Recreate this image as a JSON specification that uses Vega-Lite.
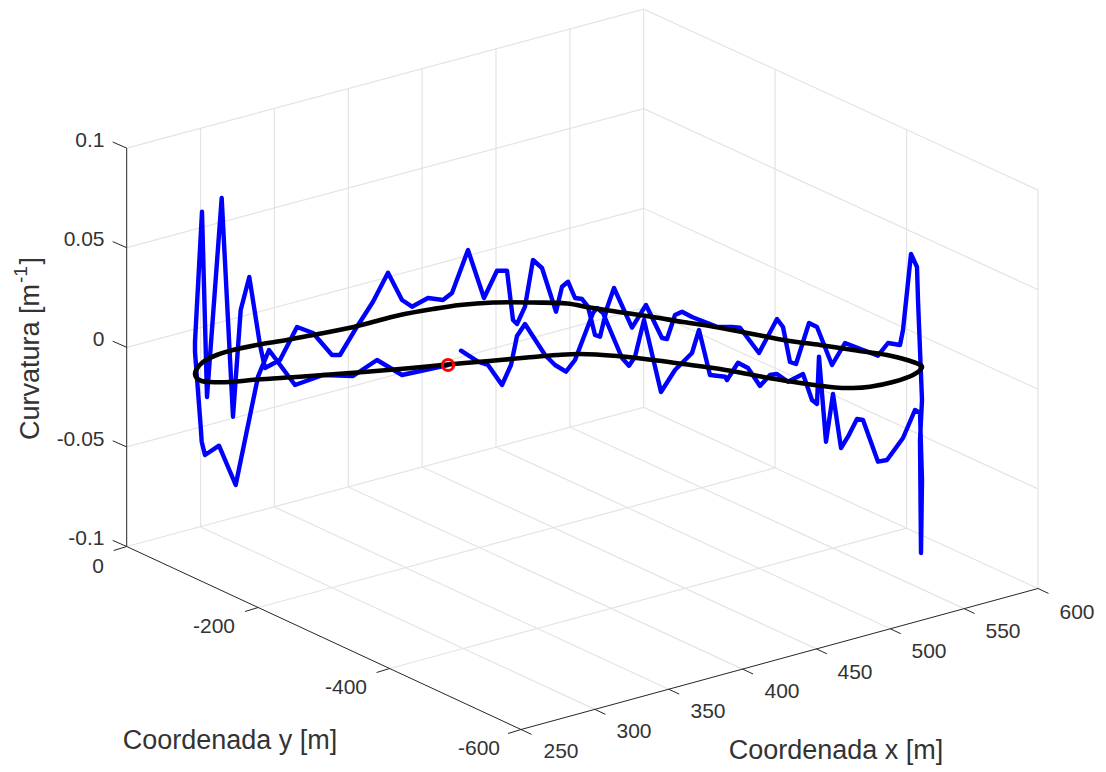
{"$schema":"https://vega.github.io/schema/vega-lite/v6.json","width":1106,"height":772,"padding":0,"autosize":{"type":"fit","contains":"padding"},"background":"white","config":{"view":{"stroke":null}},
"datasets":{
"grid":[
{"s":"a1","i":0,"h":200.6,"v":527},{"s":"a1","i":1,"h":200.6,"v":128.6},
{"s":"a2","i":0,"h":274.4,"v":507},{"s":"a2","i":1,"h":274.4,"v":108.6},
{"s":"a3","i":0,"h":348.3,"v":487},{"s":"a3","i":1,"h":348.3,"v":88.6},
{"s":"a4","i":0,"h":422.1,"v":467},{"s":"a4","i":1,"h":422.1,"v":68.6},
{"s":"a5","i":0,"h":496,"v":447},{"s":"a5","i":1,"h":496,"v":48.6},
{"s":"a6","i":0,"h":569.9,"v":427},{"s":"a6","i":1,"h":569.9,"v":28.6},
{"s":"a7","i":0,"h":643.7,"v":407.5},{"s":"a7","i":1,"h":643.7,"v":9.1},
{"s":"b0","i":0,"h":126.7,"v":546.5},{"s":"b0","i":1,"h":643.7,"v":407.5},{"s":"b0","i":2,"h":1038,"v":588.5},
{"s":"b1","i":0,"h":126.7,"v":446.9},{"s":"b1","i":1,"h":643.7,"v":307.9},{"s":"b1","i":2,"h":1038,"v":488.9},
{"s":"b2","i":0,"h":126.7,"v":347.3},{"s":"b2","i":1,"h":643.7,"v":208.3},{"s":"b2","i":2,"h":1038,"v":389.3},
{"s":"b3","i":0,"h":126.7,"v":247.7},{"s":"b3","i":1,"h":643.7,"v":108.7},{"s":"b3","i":2,"h":1038,"v":289.7},
{"s":"b4","i":0,"h":126.7,"v":148.1},{"s":"b4","i":1,"h":643.7,"v":9.1},{"s":"b4","i":2,"h":1038,"v":190.1},
{"s":"c1","i":0,"h":775.1,"v":467.8},{"s":"c1","i":1,"h":775.1,"v":69.4},
{"s":"c2","i":0,"h":906.6,"v":528.2},{"s":"c2","i":1,"h":906.6,"v":129.8},
{"s":"c3","i":0,"h":1038,"v":588.5},{"s":"c3","i":1,"h":1038,"v":190.1},
{"s":"d1","i":0,"h":200.6,"v":527},{"s":"d1","i":1,"h":594.9,"v":709.4},
{"s":"d2","i":0,"h":274.4,"v":507},{"s":"d2","i":1,"h":668.7,"v":689.2},
{"s":"d3","i":0,"h":348.3,"v":487},{"s":"d3","i":1,"h":742.6,"v":669.1},
{"s":"d4","i":0,"h":422.1,"v":467},{"s":"d4","i":1,"h":816.4,"v":648.9},
{"s":"d5","i":0,"h":496,"v":447},{"s":"d5","i":1,"h":890.3,"v":628.8},
{"s":"d6","i":0,"h":569.9,"v":427},{"s":"d6","i":1,"h":964.1,"v":608.6},
{"s":"e1","i":0,"h":258.1,"v":607.5},{"s":"e1","i":1,"h":775.1,"v":467.8},
{"s":"e2","i":0,"h":389.6,"v":668.5},{"s":"e2","i":1,"h":906.6,"v":528.2}
],
"axes":[
{"s":"z","i":0,"h":126.7,"v":148.1},{"s":"z","i":1,"h":126.7,"v":546.5},
{"s":"y","i":0,"h":126.7,"v":546.5},{"s":"y","i":1,"h":521,"v":729.5},
{"s":"x","i":0,"h":521,"v":729.5},{"s":"x","i":1,"h":1038,"v":588.5},
{"s":"tz0","i":0,"h":126.7,"v":148.1},{"s":"tz0","i":1,"h":112.7,"v":142},
{"s":"tz1","i":0,"h":126.7,"v":247.7},{"s":"tz1","i":1,"h":112.7,"v":241.6},
{"s":"tz2","i":0,"h":126.7,"v":347.3},{"s":"tz2","i":1,"h":112.7,"v":341.2},
{"s":"tz3","i":0,"h":126.7,"v":446.9},{"s":"tz3","i":1,"h":112.7,"v":440.8},
{"s":"tz4","i":0,"h":126.7,"v":546.5},{"s":"tz4","i":1,"h":112.7,"v":540.4},
{"s":"ty0","i":0,"h":126.7,"v":546.5},{"s":"ty0","i":1,"h":113.7,"v":550.5},
{"s":"ty1","i":0,"h":258.1,"v":607.5},{"s":"ty1","i":1,"h":245.1,"v":611.5},
{"s":"ty2","i":0,"h":389.6,"v":668.5},{"s":"ty2","i":1,"h":376.6,"v":672.5},
{"s":"ty3","i":0,"h":521,"v":729.5},{"s":"ty3","i":1,"h":508,"v":733.5},
{"s":"tx0","i":0,"h":521,"v":729.5},{"s":"tx0","i":1,"h":531.5,"v":734.4},
{"s":"tx1","i":0,"h":594.9,"v":709.4},{"s":"tx1","i":1,"h":605.4,"v":714.3},
{"s":"tx2","i":0,"h":668.7,"v":689.2},{"s":"tx2","i":1,"h":679.2,"v":694.1},
{"s":"tx3","i":0,"h":742.6,"v":669.1},{"s":"tx3","i":1,"h":753.1,"v":674},
{"s":"tx4","i":0,"h":816.4,"v":648.9},{"s":"tx4","i":1,"h":826.9,"v":653.8},
{"s":"tx5","i":0,"h":890.3,"v":628.8},{"s":"tx5","i":1,"h":900.8,"v":633.7},
{"s":"tx6","i":0,"h":964.1,"v":608.6},{"s":"tx6","i":1,"h":974.6,"v":613.5},
{"s":"tx7","i":0,"h":1038,"v":588.5},{"s":"tx7","i":1,"h":1048.5,"v":593.4}
],
"blue":[
{"i":0,"h":461,"v":350.7},{"i":1,"h":478,"v":361.7},{"i":2,"h":488,"v":365},{"i":3,"h":502,"v":385},{"i":4,"h":511,"v":365},{"i":5,"h":517,"v":336},{"i":6,"h":525,"v":324},{"i":7,"h":545,"v":355},{"i":8,"h":555,"v":365},{"i":9,"h":566,"v":371.7},{"i":10,"h":575,"v":360},{"i":11,"h":593,"v":313},{"i":12,"h":597,"v":308},{"i":13,"h":603,"v":313},{"i":14,"h":622,"v":358},{"i":15,"h":629,"v":365.7},{"i":16,"h":635,"v":356.7},{"i":17,"h":644,"v":320},{"i":18,"h":661,"v":392},{"i":19,"h":675,"v":370},{"i":20,"h":685,"v":360},{"i":21,"h":692,"v":353},{"i":22,"h":699,"v":330},{"i":23,"h":710,"v":375},{"i":24,"h":725,"v":376.7},{"i":25,"h":727,"v":380},{"i":26,"h":738,"v":362.7},{"i":27,"h":748,"v":368},{"i":28,"h":760,"v":386},{"i":29,"h":770,"v":375},{"i":30,"h":777,"v":374},{"i":31,"h":788,"v":381.7},{"i":32,"h":803,"v":374},{"i":33,"h":812,"v":400},{"i":34,"h":817,"v":404},{"i":35,"h":819,"v":356.7},{"i":36,"h":826,"v":441.7},{"i":37,"h":833,"v":394},{"i":38,"h":841,"v":448},{"i":39,"h":848,"v":436.7},{"i":40,"h":857,"v":419},{"i":41,"h":863,"v":420},{"i":42,"h":878,"v":461.7},{"i":43,"h":887,"v":460},{"i":44,"h":903,"v":438},{"i":45,"h":915,"v":410},{"i":46,"h":920,"v":413},{"i":47,"h":922,"v":480},{"i":48,"h":921,"v":553},{"i":49,"h":920,"v":440},{"i":50,"h":922,"v":400},{"i":51,"h":918,"v":300},{"i":52,"h":917,"v":267},{"i":53,"h":911,"v":254},{"i":54,"h":903,"v":330},{"i":55,"h":900,"v":345},{"i":56,"h":888,"v":343},{"i":57,"h":878,"v":355.7},{"i":58,"h":845,"v":343},{"i":59,"h":832,"v":365},{"i":60,"h":817,"v":327},{"i":61,"h":809,"v":323},{"i":62,"h":796,"v":364},{"i":63,"h":790,"v":362},{"i":64,"h":783,"v":327},{"i":65,"h":777,"v":319},{"i":66,"h":759,"v":353},{"i":67,"h":740,"v":327.7},{"i":68,"h":732,"v":327},{"i":69,"h":717,"v":326.7},{"i":70,"h":692,"v":317},{"i":71,"h":682,"v":311.7},{"i":72,"h":675,"v":315},{"i":73,"h":667,"v":339},{"i":74,"h":662,"v":338},{"i":75,"h":646,"v":305},{"i":76,"h":632,"v":327.7},{"i":77,"h":614,"v":288},{"i":78,"h":607,"v":308},{"i":79,"h":600,"v":336.7},{"i":80,"h":595,"v":335},{"i":81,"h":588,"v":306.7},{"i":82,"h":582,"v":299},{"i":83,"h":575,"v":298},{"i":84,"h":568,"v":281.7},{"i":85,"h":562,"v":286.7},{"i":86,"h":556,"v":311.7},{"i":87,"h":542,"v":268},{"i":88,"h":533,"v":260},{"i":89,"h":525,"v":306.7},{"i":90,"h":517,"v":324},{"i":91,"h":513,"v":320},{"i":92,"h":507,"v":270.7},{"i":93,"h":497,"v":270.7},{"i":94,"h":484,"v":298},{"i":95,"h":468,"v":250},{"i":96,"h":452,"v":293},{"i":97,"h":443,"v":300},{"i":98,"h":428,"v":298},{"i":99,"h":412,"v":306.7},{"i":100,"h":402,"v":300},{"i":101,"h":388,"v":272.7},{"i":102,"h":373,"v":301.7},{"i":103,"h":357,"v":326.7},{"i":104,"h":340,"v":355},{"i":105,"h":332,"v":355},{"i":106,"h":313,"v":333},{"i":107,"h":297,"v":327},{"i":108,"h":280,"v":360},{"i":109,"h":265,"v":368},{"i":110,"h":260,"v":345},{"i":111,"h":249.3,"v":277},{"i":112,"h":240.7,"v":310},{"i":113,"h":233,"v":416.7},{"i":114,"h":221.7,"v":198},{"i":115,"h":207,"v":397},{"i":116,"h":202,"v":211.7},{"i":117,"h":195,"v":341.7},{"i":118,"h":195,"v":352},{"i":119,"h":200.7,"v":426.7},{"i":120,"h":201.7,"v":441.7},{"i":121,"h":205,"v":455},{"i":122,"h":219,"v":445.7},{"i":123,"h":235.7,"v":485},{"i":124,"h":258,"v":376.7},{"i":125,"h":269,"v":350},{"i":126,"h":295,"v":385},{"i":127,"h":323,"v":375},{"i":128,"h":353,"v":376},{"i":129,"h":377,"v":360},{"i":130,"h":402,"v":375},{"i":131,"h":448,"v":365}
],
"black":[
{"i":0,"h":448,"v":364.5},{"i":1,"h":477,"v":362},{"i":2,"h":500,"v":360},{"i":3,"h":527,"v":357.5},{"i":4,"h":557,"v":355},{"i":5,"h":580,"v":354},{"i":6,"h":617,"v":356},{"i":7,"h":653,"v":360},{"i":8,"h":683,"v":364},{"i":9,"h":720,"v":369},{"i":10,"h":753,"v":375},{"i":11,"h":787,"v":381},{"i":12,"h":820,"v":385.7},{"i":13,"h":835,"v":387.5},{"i":14,"h":853,"v":388},{"i":15,"h":870,"v":386.7},{"i":16,"h":893,"v":382},{"i":17,"h":913,"v":375},{"i":18,"h":921.7,"v":368},{"i":19,"h":921.7,"v":366},{"i":20,"h":907,"v":360},{"i":21,"h":887,"v":355},{"i":22,"h":853,"v":350},{"i":23,"h":820,"v":345},{"i":24,"h":790,"v":341},{"i":25,"h":763,"v":336},{"i":26,"h":737,"v":331},{"i":27,"h":710,"v":326},{"i":28,"h":683,"v":322},{"i":29,"h":653,"v":317},{"i":30,"h":617,"v":311.7},{"i":31,"h":590,"v":307.5},{"i":32,"h":567,"v":303.5},{"i":33,"h":533,"v":302.5},{"i":34,"h":493,"v":302.5},{"i":35,"h":460,"v":305},{"i":36,"h":433,"v":309},{"i":37,"h":400,"v":315},{"i":38,"h":376.7,"v":321},{"i":39,"h":350,"v":327.7},{"i":40,"h":313,"v":335},{"i":41,"h":286.7,"v":340},{"i":42,"h":256.7,"v":345},{"i":43,"h":233,"v":350},{"i":44,"h":216.7,"v":355},{"i":45,"h":203,"v":362},{"i":46,"h":196.7,"v":369},{"i":47,"h":195,"v":374},{"i":48,"h":196.7,"v":378},{"i":49,"h":201.7,"v":381},{"i":50,"h":210,"v":382},{"i":51,"h":230,"v":382},{"i":52,"h":256.7,"v":379.5},{"i":53,"h":300,"v":376.7},{"i":54,"h":350,"v":373},{"i":55,"h":400,"v":369},{"i":56,"h":448,"v":364.5}
],
"marker":[{"h":448,"v":365}],
"ticks":[
{"t":"0.1","h":104.5,"v":140.5},{"t":"0.05","h":104.5,"v":240},{"t":"0","h":104.5,"v":339.5},{"t":"-0.05","h":104.5,"v":439.5},{"t":"-0.1","h":104.5,"v":538.5}
],
"cticks":[
{"t":"0","h":98,"v":567},{"t":"-200","h":214,"v":627},{"t":"-400","h":346,"v":688},{"t":"-600","h":479,"v":749},
{"t":"250","h":561,"v":752},{"t":"300","h":634,"v":732},{"t":"350","h":708,"v":712},{"t":"400","h":782,"v":692},{"t":"450","h":855,"v":673},{"t":"500","h":929,"v":652},{"t":"550","h":1003,"v":632},{"t":"600","h":1077,"v":613}
],
"titles":[{"t":"Coordenada y [m]","h":230,"v":741},{"t":"Coordenada x [m]","h":836,"v":751}],
"ztitle":[{"t":"Curvatura [m","h":39,"v":440},{"t":"]","h":39,"v":264.5}],
"zsup":[{"t":"-1","h":27,"v":283}]
},
"layer":[
{"data":{"name":"grid"},"mark":{"type":"line","stroke":"#e4e4e4","strokeWidth":1.2},"encoding":{"x":{"field":"h","type":"quantitative","scale":{"domain":[0,1106],"nice":false,"zero":false},"axis":null},"y":{"field":"v","type":"quantitative","scale":{"domain":[772,0],"nice":false,"zero":false},"axis":null},"detail":{"field":"s"},"order":{"field":"i"}}},
{"data":{"name":"axes"},"mark":{"type":"line","stroke":"#262626","strokeWidth":1},"encoding":{"x":{"field":"h","type":"quantitative","axis":null},"y":{"field":"v","type":"quantitative","axis":null},"detail":{"field":"s"},"order":{"field":"i"}}},
{"data":{"name":"blue"},"mark":{"type":"line","stroke":"#0000ff","strokeWidth":4.4,"strokeJoin":"round","strokeCap":"round"},"encoding":{"x":{"field":"h","type":"quantitative","axis":null},"y":{"field":"v","type":"quantitative","axis":null},"order":{"field":"i"}}},
{"data":{"name":"black"},"mark":{"type":"line","stroke":"#000000","strokeWidth":4.6,"strokeJoin":"round","strokeCap":"round","interpolate":"catmull-rom"},"encoding":{"x":{"field":"h","type":"quantitative","axis":null},"y":{"field":"v","type":"quantitative","axis":null},"order":{"field":"i"}}},
{"data":{"name":"marker"},"mark":{"type":"point","shape":"circle","filled":false,"stroke":"#ff0000","strokeWidth":3,"size":125,"opacity":1},"encoding":{"x":{"field":"h","type":"quantitative","axis":null},"y":{"field":"v","type":"quantitative","axis":null}}},
{"data":{"name":"ticks"},"mark":{"type":"text","align":"right","baseline":"middle","font":"Liberation Sans","fontSize":21,"fill":"#333333"},"encoding":{"x":{"field":"h","type":"quantitative","axis":null},"y":{"field":"v","type":"quantitative","axis":null},"text":{"field":"t"}}},
{"data":{"name":"cticks"},"mark":{"type":"text","align":"center","baseline":"middle","font":"Liberation Sans","fontSize":21,"fill":"#333333"},"encoding":{"x":{"field":"h","type":"quantitative","axis":null},"y":{"field":"v","type":"quantitative","axis":null},"text":{"field":"t"}}},
{"data":{"name":"titles"},"mark":{"type":"text","align":"center","baseline":"middle","font":"Liberation Sans","fontSize":27,"fill":"#333333"},"encoding":{"x":{"field":"h","type":"quantitative","axis":null},"y":{"field":"v","type":"quantitative","axis":null},"text":{"field":"t"}}},
{"data":{"name":"ztitle"},"mark":{"type":"text","angle":270,"align":"left","baseline":"alphabetic","font":"Liberation Sans","fontSize":27,"fill":"#333333"},"encoding":{"x":{"field":"h","type":"quantitative","axis":null},"y":{"field":"v","type":"quantitative","axis":null},"text":{"field":"t"}}},
{"data":{"name":"zsup"},"mark":{"type":"text","angle":270,"align":"left","baseline":"alphabetic","font":"Liberation Sans","fontSize":19,"fill":"#333333"},"encoding":{"x":{"field":"h","type":"quantitative","axis":null},"y":{"field":"v","type":"quantitative","axis":null},"text":{"field":"t"}}}
]}
